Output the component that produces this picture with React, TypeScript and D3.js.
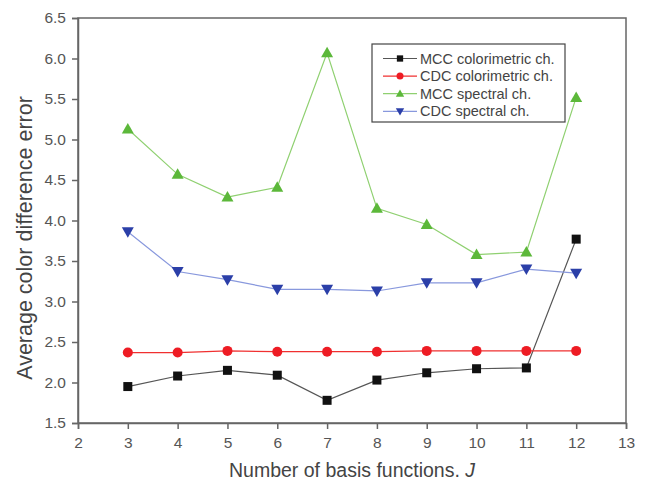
import React, { useEffect, useRef } from "react";
import * as d3 from "d3";

const basisCounts = [3, 4, 5, 6, 7, 8, 9, 10, 11, 12];
const mccColorimetric = [1.95, 2.08, 2.15, 2.09, 1.78, 2.03, 2.12, 2.17, 2.18, 3.77];
const cdcColorimetric = [2.37, 2.37, 2.39, 2.38, 2.38, 2.38, 2.39, 2.39, 2.39, 2.39];
const mccSpectral = [5.13, 4.57, 4.29, 4.41, 6.07, 4.15, 3.95, 3.58, 3.61, 5.52];
const cdcSpectral = [3.86, 3.37, 3.27, 3.15, 3.15, 3.13, 3.23, 3.23, 3.4, 3.35];
const xTicks = [2, 3, 4, 5, 6, 7, 8, 9, 10, 11, 12, 13];
const yTicks = [1.5, 2.0, 2.5, 3.0, 3.5, 4.0, 4.5, 5.0, 5.5, 6.0, 6.5];

const seriesList = [
  { name: "MCC colorimetric ch.", values: mccColorimetric, line: "#555", fill: "#111", symbol: "square" },
  { name: "CDC colorimetric ch.", values: cdcColorimetric, line: "#f03030", fill: "#ee1c24", symbol: "circle" },
  { name: "MCC spectral ch.", values: mccSpectral, line: "#8fd070", fill: "#5cb83a", symbol: "up" },
  { name: "CDC spectral ch.", values: cdcSpectral, line: "#8898dd", fill: "#2b3fa8", symbol: "down" },
];

const drawMarker = (g, symbol, x, y, fill) => {
  if (symbol === "square") {
    g.append("rect").attr("x", x - 4.5).attr("y", y - 4.5).attr("width", 9).attr("height", 9).attr("fill", fill);
  } else if (symbol === "circle") {
    g.append("circle").attr("cx", x).attr("cy", y).attr("r", 5).attr("fill", fill);
  } else if (symbol === "up") {
    g.append("path").attr("d", `M${x},${y - 6}L${x + 6},${y + 4.5}L${x - 6},${y + 4.5}Z`).attr("fill", fill);
  } else {
    g.append("path").attr("d", `M${x},${y + 6}L${x + 6},${y - 4.5}L${x - 6},${y - 4.5}Z`).attr("fill", fill);
  }
};

const App = () => {
  const ref = useRef(null);

  useEffect(() => {
    const svg = d3.select(ref.current);
    svg.selectAll("*").remove();
    const left = 78;
    const right = 626;
    const top = 18;
    const bottom = 423;
    const font = "Liberation Sans, Arial, sans-serif";

    const x = d3.scaleLinear().domain([2, 13]).range([left, right]);
    const y = d3.scaleLinear().domain([1.5, 6.5]).range([bottom, top]);

    svg.append("rect").attr("width", 645).attr("height", 485).attr("fill", "#fff");

    // frame
    svg
      .append("rect")
      .attr("x", left)
      .attr("y", top)
      .attr("width", right - left)
      .attr("height", bottom - top)
      .attr("fill", "none")
      .attr("stroke", "#666")
      .attr("stroke-width", 1.5);

    const xAxis = svg
      .append("g")
      .attr("transform", `translate(0,${bottom})`)
      .call(d3.axisBottom(x).tickValues(xTicks).tickSize(6).tickPadding(8).tickFormat(d3.format("d")));
    const yAxis = svg
      .append("g")
      .attr("transform", `translate(${left},0)`)
      .call(d3.axisLeft(y).tickValues(yTicks).tickSize(6).tickPadding(6).tickFormat(d3.format(".1f")));

    [xAxis, yAxis].forEach((a) => {
      a.select(".domain").attr("stroke", "#666").attr("stroke-width", 1.5);
      a.selectAll(".tick line").attr("stroke", "#666").attr("stroke-width", 1.5);
      a.selectAll(".tick text").attr("fill", "#555").attr("font-size", 15.5).attr("font-family", font);
    });

    // series
    seriesList.forEach((s) => {
      const line = d3
        .line()
        .x((d, i) => x(basisCounts[i]))
        .y((d) => y(d));
      svg
        .append("path")
        .datum(s.values)
        .attr("d", line)
        .attr("fill", "none")
        .attr("stroke", s.line)
        .attr("stroke-width", 1.2);
      const g = svg.append("g");
      s.values.forEach((v, i) => drawMarker(g, s.symbol, x(basisCounts[i]), y(v), s.fill));
    });

    // legend
    const lg = svg.append("g");
    lg.append("rect")
      .attr("x", 372)
      .attr("y", 44)
      .attr("width", 193)
      .attr("height", 78)
      .attr("fill", "#fff")
      .attr("stroke", "#444")
      .attr("stroke-width", 1.2);
    seriesList.forEach((s, i) => {
      const ly = 58.5 + i * 17.6;
      lg.append("line")
        .attr("x1", 383)
        .attr("x2", 417)
        .attr("y1", ly)
        .attr("y2", ly)
        .attr("stroke", s.line)
        .attr("stroke-width", 1.2);
      const mg = lg.append("g").attr("transform", `translate(400,${ly}) scale(0.7) translate(-400,${-ly})`);
      drawMarker(mg, s.symbol, 400, ly, s.fill);
      lg.append("text")
        .attr("x", 420)
        .attr("y", ly + 5)
        .attr("font-size", 14.5)
        .attr("font-family", font)
        .attr("fill", "#444")
        .text(s.name);
    });

    // axis titles
    svg
      .append("text")
      .attr("transform", `translate(32,238) rotate(-90)`)
      .attr("text-anchor", "middle")
      .attr("font-size", 21.5)
      .attr("font-family", font)
      .attr("fill", "#444")
      .text("Average color difference error");
    const xt = svg
      .append("text")
      .attr("x", 352)
      .attr("y", 477)
      .attr("text-anchor", "middle")
      .attr("font-size", 19.5)
      .attr("font-family", font)
      .attr("fill", "#444");
    xt.append("tspan").text("Number of basis functions, ");
    xt.append("tspan").attr("font-style", "italic").text("J");
  }, []);

  return <svg ref={ref} width={645} height={485} style={{ display: "block", margin: "-8px" }}></svg>;
};

export default App;
